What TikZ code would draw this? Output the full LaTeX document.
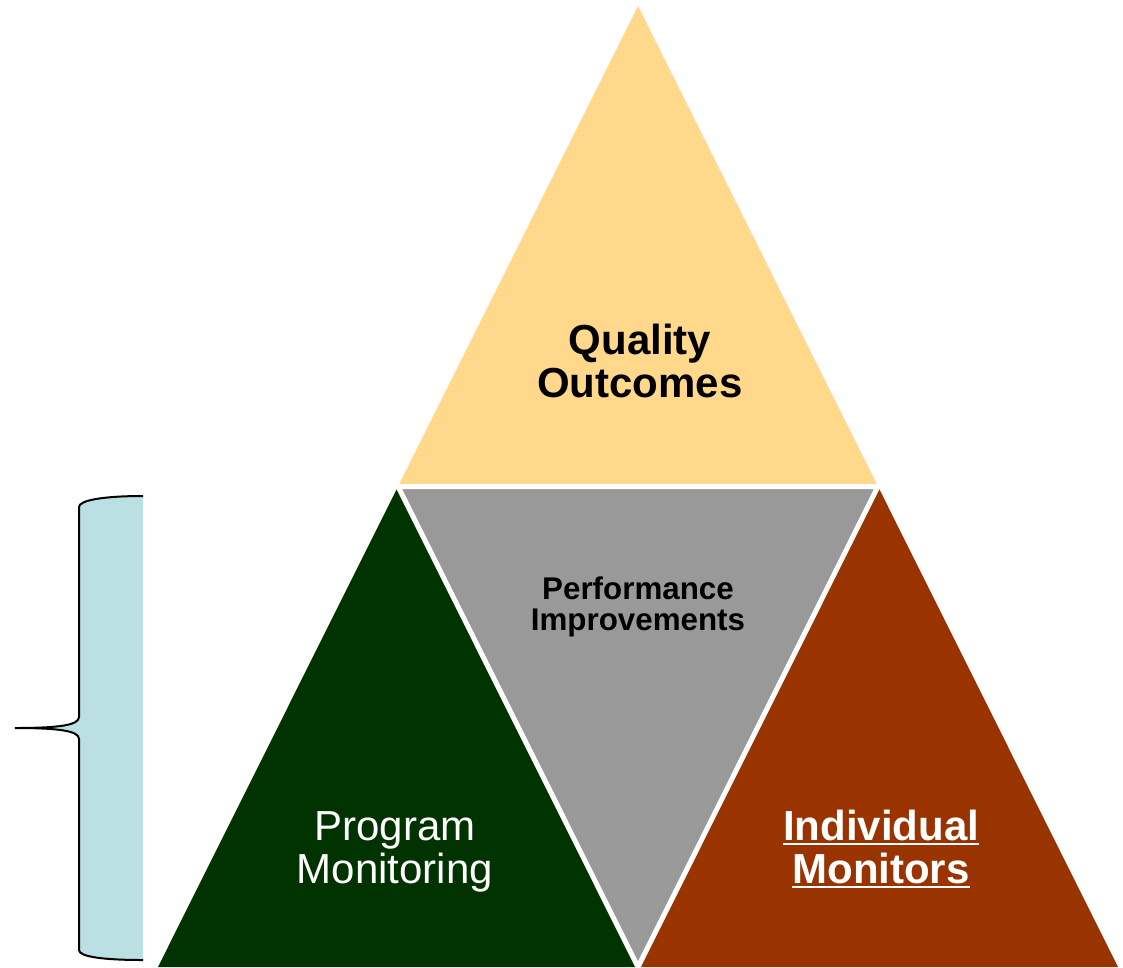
\documentclass[tikz,border=0pt]{standalone}
\usepackage{fontspec}
\setmainfont{Liberation Sans}
\definecolor{topyellow}{HTML}{FFD88B}
\definecolor{midgray}{HTML}{999999}
\definecolor{darkgreen}{HTML}{003300}
\definecolor{rust}{HTML}{993300}
\definecolor{paleblue}{HTML}{BBE0E3}
\newsavebox\ulbox
\newcommand\myul[1]{\sbox\ulbox{#1}\leavevmode\rlap{\rule[-3.75pt]{\wd\ulbox}{1.5pt}}\usebox\ulbox}
\tikzset{
  bigtext/.style={font=\fontsize{31.5pt}{32.25pt}\selectfont, align=center, inner sep=0pt, anchor=base},
  bigbold/.style={bigtext, font=\fontsize{31.5pt}{32.25pt}\selectfont\bfseries},
  smalltext/.style={font=\fontsize{23.5pt}{23.25pt}\selectfont\bfseries, align=center, inner sep=0pt, anchor=base},
  gap/.style={draw=white, line width=3.75pt, line join=round}
}
\begin{document}
\begin{tikzpicture}[x=0.75pt,y=-0.75pt]
\useasboundingbox (0,0) rectangle (1123,967);
% corners of the big triangle
\coordinate (A) at (638,6);
\coordinate (L) at (158,967);
\coordinate (R) at (1118,967);
\coordinate (ML) at (398,486.5);
\coordinate (MR) at (878,486.5);
\coordinate (MB) at (638,967);
% four triangles
\fill[topyellow] (A) -- (ML) -- (MR) -- cycle;
\fill[darkgreen] (ML) -- (L) -- (MB) -- cycle;
\fill[rust] (MR) -- (MB) -- (R) -- cycle;
\fill[midgray] (ML) -- (MR) -- (MB) -- cycle;
\draw[gap] (ML) -- (MR) -- (MB) -- cycle;
% brace
\coordinate (b1) at (143,496);
\coordinate (b2) at (79,507);
\coordinate (b3) at (79,717);
\coordinate (tip) at (15,728);
\coordinate (b4) at (79,739);
\coordinate (b5) at (79,950);
\coordinate (b6) at (143,960);
\fill[paleblue] (b1) .. controls (105,496) and (79,500) .. (b2) -- (b3)
  .. controls (79,725) and (60,728) .. (tip)
  .. controls (60,728) and (79,731) .. (b4) -- (b5)
  .. controls (79,957) and (105,960) .. (b6) -- cycle;
\draw[line width=1.5pt] (b1) .. controls (105,496) and (79,500) .. (b2) -- (b3)
  .. controls (79,725) and (60,728) .. (tip)
  .. controls (60,728) and (79,731) .. (b4) -- (b5)
  .. controls (79,957) and (105,960) .. (b6);
% labels (base anchor = baseline of the last line)
\node[bigbold] (quality) at (640,397) {Quality\\Outcomes};
\node[smalltext] (perf) at (638,630) {Performance\\Improvements};
\node[bigtext, text=white] (program) at (395,883) {Program\\Monitoring};
\node[bigbold, text=white] (indiv) at (881,883) {\myul{Individual}\\\myul{Monitors}};
\end{tikzpicture}
\end{document}
